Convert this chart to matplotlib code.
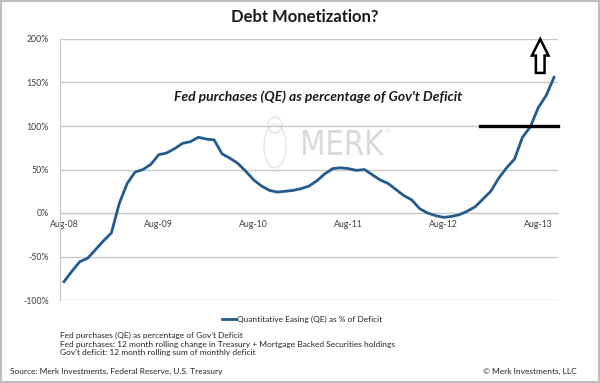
import matplotlib
matplotlib.use("Agg")
import matplotlib.pyplot as plt
from matplotlib.patches import Polygon, Rectangle, PathPatch, Ellipse
from matplotlib.lines import Line2D
from matplotlib.textpath import TextPath
from matplotlib.font_manager import FontProperties
from matplotlib.transforms import Affine2D, IdentityTransform

plt.rcParams['font.family'] = ['Lato', 'DejaVu Sans']

months = ["Aug-08", "Sep-08", "Oct-08", "Nov-08", "Dec-08", "Jan-09", "Feb-09", "Mar-09",
          "Apr-09", "May-09", "Jun-09", "Jul-09", "Aug-09", "Sep-09", "Oct-09", "Nov-09",
          "Dec-09", "Jan-10", "Feb-10", "Mar-10", "Apr-10", "May-10", "Jun-10", "Jul-10",
          "Aug-10", "Sep-10", "Oct-10", "Nov-10", "Dec-10", "Jan-11", "Feb-11", "Mar-11",
          "Apr-11", "May-11", "Jun-11", "Jul-11", "Aug-11", "Sep-11", "Oct-11", "Nov-11",
          "Dec-11", "Jan-12", "Feb-12", "Mar-12", "Apr-12", "May-12", "Jun-12", "Jul-12",
          "Aug-12", "Sep-12", "Oct-12", "Nov-12", "Dec-12", "Jan-13", "Feb-13", "Mar-13",
          "Apr-13", "May-13", "Jun-13", "Jul-13", "Aug-13", "Sep-13", "Oct-13"]
qe_pct = [-79, -67, -56, -52, -42, -32, -23, 11, 34, 47, 50, 56, 67, 69, 74, 80,
          82, 87, 85, 84, 68, 63, 57, 48, 38, 31, 26, 24, 25, 26, 28, 31,
          37, 45, 51, 52, 51, 49, 50, 44, 38, 34, 27, 20, 15, 5, 0, -3,
          -5, -4, -2, 2, 7, 16, 25, 40, 52, 62, 87, 99, 121, 135, 156]
yticks = [-100, -50, 0, 50, 100, 150, 200]
xtick_labels = ["Aug-08", "Aug-09", "Aug-10", "Aug-11", "Aug-12", "Aug-13"]

W, H = 600, 383
fig = plt.figure(figsize=(6, 3.83), dpi=100)
fig.patch.set_facecolor('white')

def fx(px):
    return px / W

def fy(py):
    return 1 - py / H

# watermark (drawn in figure pixels, behind the chart)
wm_fp = FontProperties(family=['DejaVu Sans'])
tp = TextPath((0, 0), "MERK", size=40, prop=wm_fp)
ext = tp.get_extents()
sx = 81 / ext.width
sy = 25 / ext.height
tr = Affine2D().translate(-ext.x0, -ext.y0).scale(sx, sy).translate(303, H - 155)
wm = PathPatch(tr.transform_path(tp), facecolor='#d9d9d9', edgecolor='none', zorder=0,
               transform=IdentityTransform())
fig.add_artist(wm)
fig.text(fx(386), fy(132), "®", fontsize=4, color='#d9d9d9', ha='left', va='center', zorder=0)
fig.add_artist(Ellipse((fx(275), fy(146)), fx(22), 44 / H, transform=fig.transFigure,
                       fill=False, edgecolor='#e3e3e3', lw=0.9, zorder=0))
fig.add_artist(Ellipse((fx(275), fy(125)), fx(14), 16 / H, transform=fig.transFigure,
                       fill=False, edgecolor='#e3e3e3', lw=0.9, zorder=0))

ax = fig.add_axes([fx(60), fy(300), fx(558) - fx(60), fy(39) - fy(300)])
ax.set_facecolor('none')
ax.spines['bottom'].set_position(('data', 0))

x = list(range(len(months)))
line_color = '#245b8f'
ax.plot(x, qe_pct, color=line_color, lw=2.0, solid_joinstyle='round', zorder=3)

ax.set_xlim(-0.5, len(months) - 0.5)
ax.set_ylim(-100, 200)
ax.set_yticks(yticks)
ax.set_yticklabels([f"{v}%" for v in yticks], fontsize=6.3, color='#404040')
ax.yaxis.grid(True, color='#c8c8c8', lw=1.0)
ax.set_axisbelow(True)
ax.tick_params(axis='y', length=0, pad=8)

pos = [months.index(m) for m in xtick_labels]
ax.set_xticks(pos)
ax.set_xticklabels(xtick_labels, fontsize=6.3, color='#404040')
ax.spines['bottom'].set_color('#c8c8c8')
ax.tick_params(axis='x', length=0, pad=5)
for s in ['top', 'right']:
    ax.spines[s].set_visible(False)
ax.spines['left'].set_color('#c8c8c8')

# black reference line at 100%
ax.plot([52.6, 62.5], [100, 100], color='black', lw=2.4, clip_on=False, zorder=4)

# hollow up arrow
cx = 60.25
hw, sw = 1.05, 0.55
arrow = Polygon([(cx, 200), (cx + hw, 181), (cx + sw, 181), (cx + sw, 161),
                 (cx - sw, 161), (cx - sw, 181), (cx - hw, 181)], closed=True,
                facecolor='white', edgecolor='black', lw=1.8, clip_on=False, zorder=5)
ax.add_patch(arrow)

# titles and annotations
fig.text(fx(305), fy(17), "Debt Monetization?", fontsize=12, fontweight='bold',
         ha='center', va='center', color='#1a1a1a')
fig.text(fx(318), fy(97), "Fed purchases (QE) as percentage of Gov't Deficit", fontsize=10,
         fontweight='bold', fontstyle='italic', ha='center', va='center', color='#1a1a1a')

# legend
fig.add_artist(Line2D([fx(222), fx(236)], [fy(319), fy(319)], color=line_color, lw=2.0))
fig.text(fx(237), fy(319), "Quantitative Easing (QE) as % of Deficit", fontsize=6.0,
         ha='left', va='center', color='#262626')

notes = ["Fed purchases (QE) as percentage of Gov't Deficit",
         "Fed purchases: 12 month rolling change in Treasury + Mortgage Backed Securities holdings",
         "Gov't deficit: 12 month rolling sum of monthly deficit"]
for i, t in enumerate(notes):
    fig.text(fx(60), fy(335 + 9 * i), t, fontsize=6.0, ha='left', va='center', color='#262626')

fig.text(fx(10), fy(371), "Source: Merk Investments, Federal Reserve, U.S. Treasury", fontsize=6.0,
         ha='left', va='center', color='#262626')
fig.text(fx(577), fy(371), "© Merk Investments, LLC", fontsize=6.0,
         ha='right', va='center', color='#262626')

fig.add_artist(Rectangle((0.002, 0.003), 0.996, 0.994, transform=fig.transFigure,
                         fill=False, edgecolor='#bdbdbd', lw=1.5))

fig.savefig("out.png", dpi=100)
